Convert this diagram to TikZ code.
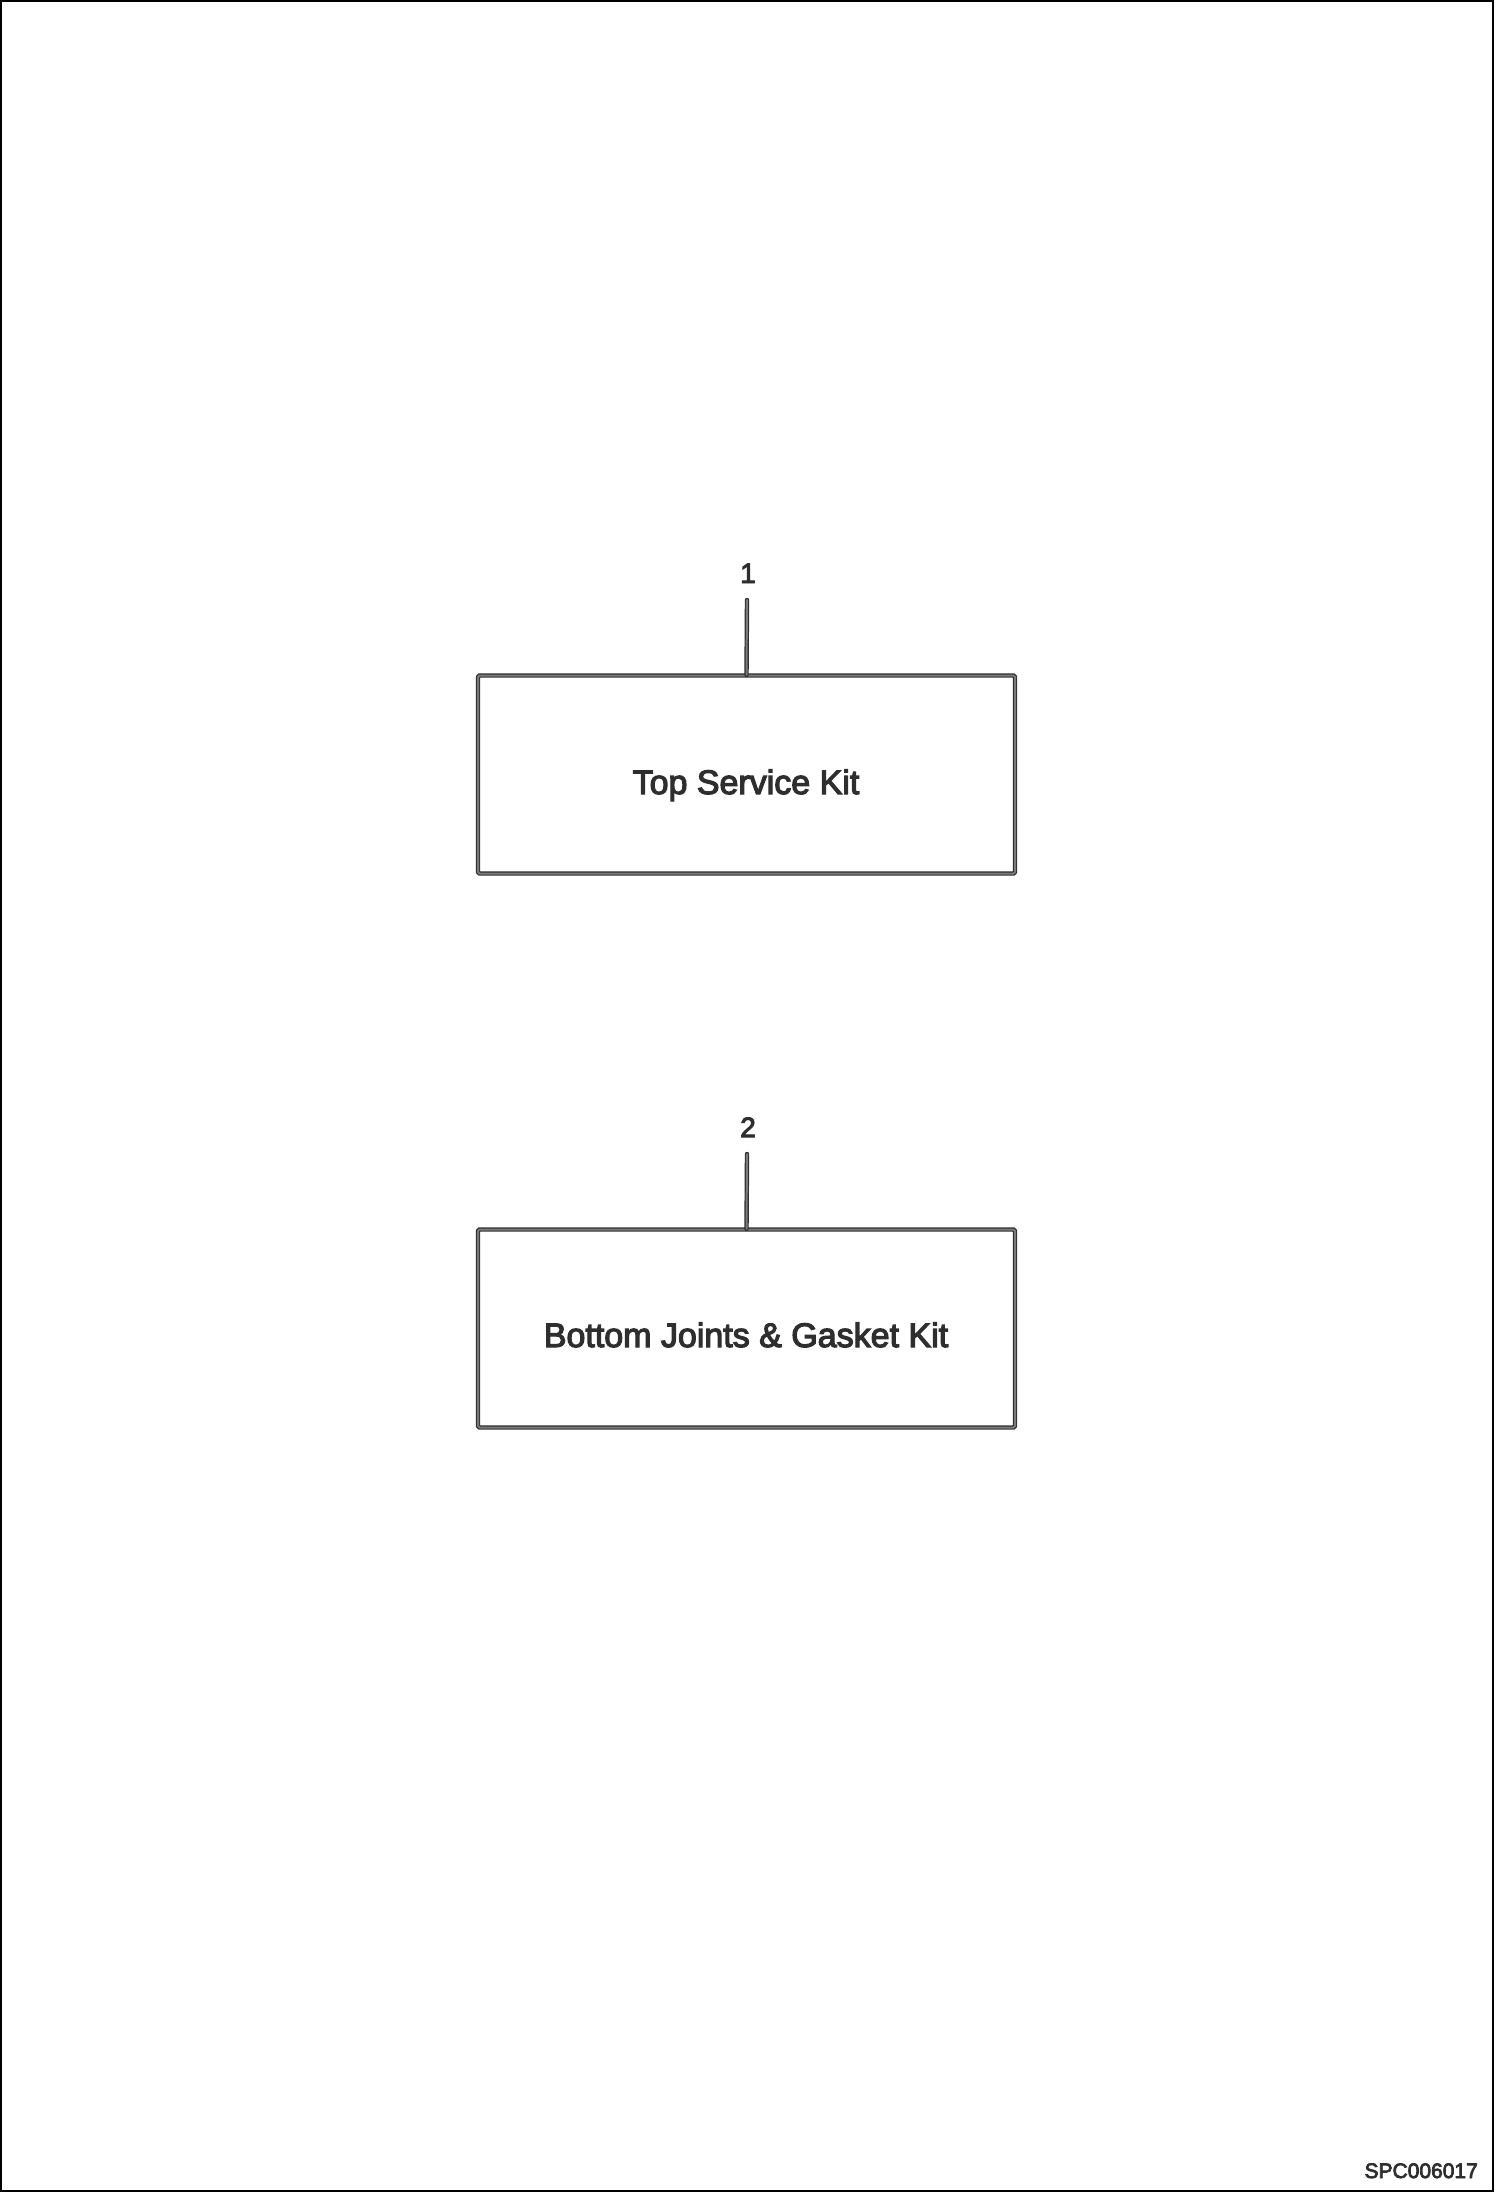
\documentclass[tikz,border=0pt]{standalone}
\usepackage{fontspec}
\setmainfont{Liberation Sans}
\newfontfamily\kitfont[FakeBold=3.5]{Liberation Sans}
\definecolor{inkgray}{HTML}{2E2E2E}
\definecolor{midgray}{HTML}{7A7A7A}
\begin{document}
\begin{tikzpicture}[x=1pt,y=1pt,
  kitbox/.style={draw=inkgray, double=midgray, line width=1.2pt, double distance=2pt, rounded corners=1.5pt, minimum width=537pt, minimum height=198pt, inner sep=0pt},
  leader/.style={draw=inkgray, double=midgray, line width=1.2pt, double distance=2pt, line cap=round},
  kittext/.style={font=\kitfont\fontsize{34}{36}\selectfont, text=inkgray, inner sep=0pt, anchor=base},
  numtext/.style={font=\kitfont\fontsize{28}{30}\selectfont, text=inkgray, inner sep=0pt, anchor=base},
  reftext/.style={font=\kitfont\fontsize{21}{22}\selectfont, text=inkgray, inner sep=0pt, anchor=base east}]
\useasboundingbox (0,0) rectangle (1498,-2194);
\draw[line width=2pt, black] (1,-1) rectangle (1493,-2191);
% kit 1
\node[kitbox] (box1) at (746.5,-774.5) {};
\node[kittext] (txt1) at (746,-794) {Top Service Kit};
\node[numtext] (num1) at (748,-583) {1};
\coordinate (top1) at (747,-600);
\draw[leader] (top1) -- (box1.north);
% kit 2
\node[kitbox] (box2) at (746.5,-1328.5) {};
\node[kittext] (txt2) at (746,-1347) {Bottom Joints \& Gasket Kit};
\node[numtext] (num2) at (748,-1137) {2};
\coordinate (top2) at (747,-1154);
\draw[leader] (top2) -- (box2.north);
% reference code
\node[reftext] (code) at (1478,-2178) {SPC006017};
\end{tikzpicture}
\end{document}
